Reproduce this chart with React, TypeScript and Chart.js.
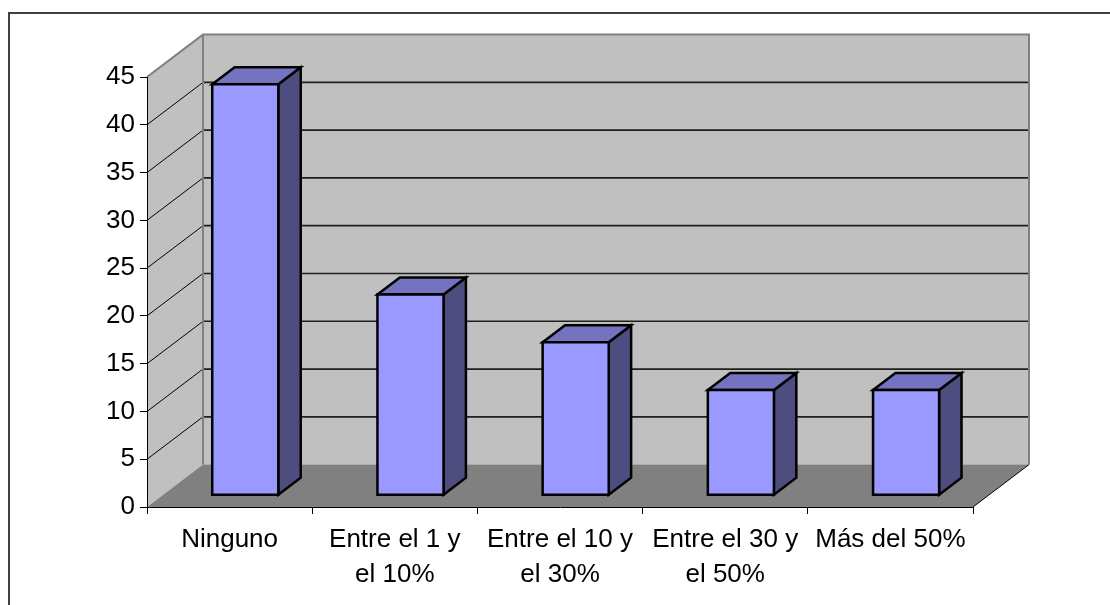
import React, { useEffect, useRef } from "react";
import { Chart, registerables } from "chart.js";

Chart.register(...registerables);

// Chart data
const categories: (string | string[])[] = [
  "Ninguno",
  ["Entre el 1 y", "el 10%"],
  ["Entre el 10 y", "el 30%"],
  ["Entre el 30 y", "el 50%"],
  "Más del 50%",
];
const values: number[] = [43, 21, 16, 11, 11];
const yTicks = { min: 0, max: 45, step: 5 };

// 3D look
const DEPTH_X = 56;
const DEPTH_Y = -42.4;
const BAR_FRONT = 0.28; // fraction of the depth where the bar front face sits
const BAR_DEPTH = 0.4; // fraction of the depth taken by each bar
const FONT = '"Liberation Sans", Arial, Helvetica, sans-serif';

function poly(ctx: CanvasRenderingContext2D, pts: number[][]) {
  ctx.beginPath();
  ctx.moveTo(pts[0][0], pts[0][1]);
  for (let i = 1; i < pts.length; i++) ctx.lineTo(pts[i][0], pts[i][1]);
  ctx.closePath();
}

const walls3d = {
  id: "walls3d",
  beforeDraw(chart: any) {
    const ctx: CanvasRenderingContext2D = chart.ctx;
    const { left, right, top, bottom } = chart.chartArea;
    const y = chart.scales.y;
    const dx = DEPTH_X;
    const dy = DEPTH_Y;
    ctx.save();
    // back wall
    ctx.fillStyle = "#C0C0C0";
    ctx.fillRect(left + dx, top + dy, right - left, bottom - top);
    // side wall
    poly(ctx, [
      [left, bottom],
      [left, top],
      [left + dx, top + dy],
      [left + dx, bottom + dy],
    ]);
    ctx.fill();
    // floor
    ctx.fillStyle = "#808080";
    poly(ctx, [
      [left, bottom],
      [right, bottom],
      [right + dx, bottom + dy],
      [left + dx, bottom + dy],
    ]);
    ctx.fill();

    // gridlines on side wall and back wall
    for (const t of y.ticks) {
      if (t.value <= yTicks.min || t.value >= yTicks.max) continue;
      const py = y.getPixelForValue(t.value);
      ctx.strokeStyle = "#000";
      ctx.lineWidth = 1;
      ctx.beginPath();
      ctx.moveTo(left, py);
      ctx.lineTo(left + dx, py + dy);
      ctx.stroke();
      ctx.strokeStyle = "#1f1f1f";
      ctx.lineWidth = 1.7;
      ctx.beginPath();
      ctx.moveTo(left + dx, py + dy);
      ctx.lineTo(right + dx, py + dy);
      ctx.stroke();
    }

    // wall edges
    ctx.strokeStyle = "#808080";
    ctx.lineWidth = 2;
    ctx.beginPath();
    ctx.moveTo(left, top);
    ctx.lineTo(left + dx, top + dy);
    ctx.lineTo(right + dx, top + dy);
    ctx.lineTo(right + dx, bottom + dy);
    ctx.moveTo(left + dx, top + dy);
    ctx.lineTo(left + dx, bottom + dy);
    ctx.stroke();

    // floor right edge
    ctx.strokeStyle = "#000";
    ctx.lineWidth = 1;
    ctx.beginPath();
    ctx.moveTo(right, bottom);
    ctx.lineTo(right + dx, bottom + dy);
    ctx.stroke();
    ctx.restore();
  },
  afterDatasetsDraw(chart: any) {
    const ctx: CanvasRenderingContext2D = chart.ctx;
    const meta = chart.getDatasetMeta(0);
    const fx = DEPTH_X * BAR_FRONT;
    const fy = DEPTH_Y * BAR_FRONT;
    const bx = DEPTH_X * BAR_DEPTH;
    const by = DEPTH_Y * BAR_DEPTH;
    ctx.save();
    ctx.lineWidth = 2.5;
    ctx.lineJoin = "miter";
    ctx.strokeStyle = "#000";
    for (const el of meta.data) {
      const { x, y, base, width } = el.getProps(["x", "y", "base", "width"], true);
      const x0 = x - width / 2 + fx;
      const x1 = x + width / 2 + fx;
      const yT = y + fy;
      const yB = base + fy;
      // side face
      poly(ctx, [
        [x1, yT],
        [x1 + bx, yT + by],
        [x1 + bx, yB + by],
        [x1, yB],
      ]);
      ctx.fillStyle = "#4D4D80";
      ctx.fill();
      ctx.stroke();
      // top face
      poly(ctx, [
        [x0, yT],
        [x1, yT],
        [x1 + bx, yT + by],
        [x0 + bx, yT + by],
      ]);
      ctx.fillStyle = "#7373BF";
      ctx.fill();
      ctx.stroke();
      // front face
      poly(ctx, [
        [x0, yT],
        [x1, yT],
        [x1, yB],
        [x0, yB],
      ]);
      ctx.fillStyle = "#9999FF";
      ctx.fill();
      ctx.stroke();
    }
    ctx.restore();
  },
};

export default function App() {
  const canvasRef = useRef<HTMLCanvasElement | null>(null);

  useEffect(() => {
    if (!canvasRef.current) return;
    const chart = new Chart(canvasRef.current, {
      type: "bar",
      data: {
        labels: categories,
        datasets: [
          {
            data: values,
            backgroundColor: "rgba(0,0,0,0)",
            borderWidth: 0,
            barPercentage: 0.4,
            categoryPercentage: 1,
          },
        ],
      },
      options: {
        responsive: false,
        animation: false,
        events: [],
        layout: { padding: { top: 63, right: 137, bottom: 0, left: 0 } },
        plugins: {
          legend: { display: false },
          title: { display: false },
          tooltip: { enabled: false },
        },
        scales: {
          x: {
            grid: {
              drawOnChartArea: false,
              drawTicks: true,
              tickLength: 7,
              color: "#000",
              offset: true,
            },
            border: { display: true, color: "#000", width: 1 },
            ticks: {
              color: "#000",
              padding: 8,
              maxRotation: 0,
              autoSkip: false,
              font: { family: FONT, size: 26, lineHeight: 1.35 },
            },
            afterFit(scale: any) {
              scale.height = 98;
            },
          },
          y: {
            min: yTicks.min,
            max: yTicks.max,
            grid: {
              drawOnChartArea: false,
              drawTicks: true,
              tickLength: 7,
              color: "#000",
            },
            border: { display: true, color: "#000", width: 1 },
            ticks: {
              stepSize: yTicks.step,
              color: "#000",
              padding: 5,
              font: { family: FONT, size: 26 },
            },
            afterFit(scale: any) {
              scale.width = 137;
            },
          },
        },
      },
      plugins: [walls3d],
    });
    return () => chart.destroy();
  }, []);

  return (
    <div
      style={{
        position: "absolute",
        left: 8,
        top: 12,
        width: 1100,
        height: 591,
        borderLeft: "2px solid #404040",
        borderTop: "2px solid #404040",
        background: "#fff",
      }}
    >
      <canvas
        ref={canvasRef}
        width={1100}
        height={591}
        style={{ display: "block", width: 1100, height: 591 }}
      />
    </div>
  );
}
